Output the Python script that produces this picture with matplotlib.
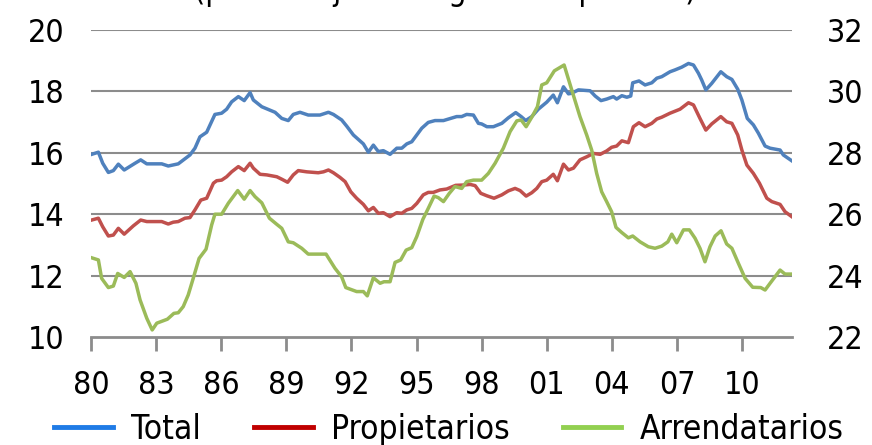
import matplotlib
matplotlib.use("Agg")
import matplotlib.pyplot as plt
from matplotlib.lines import Line2D
from matplotlib import font_manager as fm

# choose a condensed / narrow sans font if one is installed
def _pick_font():
    entries = fm.fontManager.ttflist
    def ok(f):
        return f.style == "normal" and f.weight in (400, "normal", "regular", "book")
    prefs = [
        lambda f: f.name == "Liberation Sans Narrow",
        lambda f: f.name == "DejaVu Sans" and f.stretch in ("condensed", "semi-condensed"),
        lambda f: "Condensed" in f.name or "Narrow" in f.name,
        lambda f: f.stretch in ("condensed", "semi-condensed", "extra-condensed"),
    ]
    for p in prefs:
        for f in entries:
            if ok(f) and p(f):
                return f.name, f.stretch
    return None, None

_name, _stretch = _pick_font()
if _name:
    plt.rcParams['font.family'] = [_name, 'DejaVu Sans']
    plt.rcParams['font.stretch'] = _stretch
    FS = 23
else:
    plt.rcParams['font.family'] = ['DejaVu Sans']
    FS = 19

title = "(porcentaje del ingreso disponible)"
series_names = ["Total", "Propietarios", "Arrendatarios"]
xtick_years = [1980, 1983, 1986, 1989, 1992, 1995, 1998, 2001, 2004, 2007, 2010]
xtick_labels = ["80", "83", "86", "89", "92", "95", "98", "01", "04", "07", "10"]

total_t = [1980.03, 1980.34, 1980.54, 1980.80, 1981.03, 1981.26, 1981.53, 1982.03, 1982.29, 1982.57,
           1983.26, 1983.56, 1984.02, 1984.56, 1984.79, 1985.02, 1985.33, 1985.71, 1986.02, 1986.25,
           1986.48, 1986.79, 1987.06, 1987.33, 1987.48, 1987.87, 1988.48, 1988.79, 1989.09, 1989.32,
           1989.63, 1990.01, 1990.55, 1990.94, 1991.17, 1991.55, 1991.78, 1992.09, 1992.55, 1992.78,
           1993.01, 1993.24, 1993.47, 1993.78, 1994.09, 1994.32, 1994.55, 1994.78, 1995.24, 1995.54,
           1995.85, 1996.24, 1996.85, 1997.08, 1997.31, 1997.62, 1997.85, 1998.00, 1998.24, 1998.54,
           1998.93, 1999.23, 1999.57, 1999.82, 2000.03, 2000.31, 2000.61, 2001.00, 2001.30, 2001.49,
           2001.77, 2002.00, 2002.15, 2002.46, 2003.00, 2003.23, 2003.50, 2003.76, 2004.07, 2004.22,
           2004.46, 2004.69, 2004.87, 2004.96, 2005.25, 2005.53, 2005.84, 2006.07, 2006.30, 2006.68,
           2006.91, 2007.22, 2007.53, 2007.76, 2007.99, 2008.14, 2008.33, 2008.60, 2009.02, 2009.29,
           2009.53, 2009.80, 2009.99, 2010.24, 2010.52, 2010.75, 2011.06, 2011.29, 2011.75, 2011.90,
           2012.29]
total_v = [15.95, 16.02, 15.66, 15.36, 15.42, 15.63, 15.44, 15.66, 15.77, 15.64,
           15.64, 15.57, 15.64, 15.93, 16.15, 16.52, 16.67, 17.25, 17.29, 17.42,
           17.66, 17.83, 17.70, 17.96, 17.72, 17.50, 17.32, 17.12, 17.05, 17.25,
           17.32, 17.23, 17.23, 17.32, 17.25, 17.07, 16.87, 16.58, 16.29, 16.02,
           16.25, 16.04, 16.07, 15.95, 16.15, 16.15, 16.29, 16.36, 16.80, 16.99,
           17.05, 17.05, 17.18, 17.18, 17.25, 17.23, 16.96, 16.94, 16.85, 16.85,
           16.96, 17.14, 17.31, 17.18, 17.05, 17.18, 17.42, 17.65, 17.88, 17.63,
           18.15, 17.92, 17.94, 18.05, 18.02, 17.85, 17.70, 17.75, 17.83, 17.75,
           17.86, 17.81, 17.85, 18.28, 18.34, 18.21, 18.28, 18.43, 18.48, 18.64,
           18.70, 18.79, 18.91, 18.86, 18.59, 18.37, 18.05, 18.26, 18.64, 18.48,
           18.39, 18.07, 17.72, 17.12, 16.91, 16.64, 16.22, 16.15, 16.09, 15.93,
           15.74]

prop_t = [1980.03, 1980.34, 1980.54, 1980.80, 1981.03, 1981.26, 1981.53, 1981.95, 1982.29, 1982.57,
          1983.26, 1983.56, 1983.79, 1984.02, 1984.33, 1984.56, 1984.79, 1985.06, 1985.33, 1985.64,
          1985.79, 1986.02, 1986.25, 1986.48, 1986.79, 1987.06, 1987.33, 1987.48, 1987.79, 1988.10,
          1988.56, 1988.79, 1989.06, 1989.32, 1989.55, 1989.94, 1990.47, 1990.71, 1990.94, 1991.17,
          1991.47, 1991.71, 1991.97, 1992.24, 1992.55, 1992.78, 1993.01, 1993.24, 1993.47, 1993.78,
          1994.09, 1994.32, 1994.55, 1994.78, 1995.01, 1995.31, 1995.54, 1995.77, 1996.08, 1996.39,
          1996.80, 1997.16, 1997.47, 1997.70, 1997.96, 1998.24, 1998.57, 1998.93, 1999.23, 1999.54,
          1999.77, 2000.05, 2000.31, 2000.54, 2000.77, 2001.00, 2001.30, 2001.49, 2001.77, 2002.00,
          2002.23, 2002.53, 2002.84, 2003.15, 2003.46, 2003.76, 2003.99, 2004.22, 2004.46, 2004.76,
          2004.99, 2005.25, 2005.53, 2005.84, 2006.07, 2006.30, 2006.68, 2007.14, 2007.53, 2007.76,
          2008.06, 2008.33, 2008.60, 2009.02, 2009.29, 2009.53, 2009.80, 2009.99, 2010.22, 2010.52,
          2010.80, 2011.14, 2011.37, 2011.75, 2011.98, 2012.29]
prop_v = [13.81, 13.87, 13.59, 13.29, 13.32, 13.54, 13.35, 13.62, 13.81, 13.76,
          13.76, 13.68, 13.74, 13.76, 13.87, 13.89, 14.14, 14.46, 14.52, 15.01,
          15.09, 15.11, 15.22, 15.38, 15.55, 15.42, 15.66, 15.50, 15.30, 15.28,
          15.22, 15.14, 15.04, 15.28, 15.42, 15.38, 15.35, 15.38, 15.44, 15.35,
          15.20, 15.06, 14.73, 14.52, 14.32, 14.11, 14.22, 14.03, 14.05, 13.92,
          14.05, 14.03, 14.14, 14.19, 14.35, 14.63, 14.71, 14.71, 14.79, 14.82,
          14.94, 14.95, 14.97, 14.93, 14.68, 14.60, 14.52, 14.63, 14.76, 14.84,
          14.77, 14.59, 14.70, 14.84, 15.06, 15.11, 15.30, 15.09, 15.63, 15.44,
          15.50, 15.77, 15.87, 15.98, 15.95, 16.06, 16.18, 16.22, 16.39, 16.33,
          16.85, 16.98, 16.85, 16.96, 17.10, 17.16, 17.29, 17.42, 17.63, 17.56,
          17.12, 16.74, 16.94, 17.18, 17.01, 16.96, 16.58, 16.09, 15.60, 15.33,
          15.01, 14.52, 14.41, 14.32, 14.08, 13.92]

arr_t = [1980.03, 1980.34, 1980.49, 1980.80, 1981.03, 1981.23, 1981.53, 1981.80, 1982.07, 1982.26,
         1982.57, 1982.82, 1983.03, 1983.52, 1983.82, 1984.02, 1984.25, 1984.48, 1984.71, 1984.98,
         1985.30, 1985.56, 1985.71, 1986.02, 1986.33, 1986.76, 1987.06, 1987.33, 1987.56, 1987.87,
         1988.22, 1988.56, 1988.79, 1989.09, 1989.32, 1989.71, 1990.01, 1990.83, 1991.24, 1991.55,
         1991.74, 1992.24, 1992.55, 1992.73, 1993.01, 1993.32, 1993.50, 1993.78, 1994.01, 1994.27,
         1994.52, 1994.78, 1995.01, 1995.29, 1995.54, 1995.81, 1996.00, 1996.24, 1996.51, 1996.77,
         1997.08, 1997.31, 1997.62, 1998.00, 1998.31, 1998.62, 1999.00, 1999.31, 1999.62, 1999.82,
         2000.05, 2000.31, 2000.57, 2000.77, 2001.00, 2001.35, 2001.80, 2002.15, 2002.53, 2002.84,
         2003.07, 2003.30, 2003.53, 2003.76, 2003.99, 2004.19, 2004.46, 2004.76, 2004.96, 2005.30,
         2005.68, 2005.99, 2006.30, 2006.58, 2006.76, 2006.99, 2007.30, 2007.57, 2007.83, 2008.06,
         2008.29, 2008.52, 2008.76, 2009.03, 2009.29, 2009.53, 2009.83, 2010.14, 2010.49, 2010.86,
         2011.06, 2011.29, 2011.75, 2011.98, 2012.29]
arr_v = [24.58, 24.51, 23.91, 23.61, 23.66, 24.07, 23.94, 24.13, 23.75, 23.21,
         22.61, 22.23, 22.45, 22.58, 22.77, 22.79, 22.99, 23.37, 23.91, 24.56,
         24.86, 25.65, 26.00, 26.00, 26.36, 26.77, 26.49, 26.77, 26.57, 26.37,
         25.87, 25.67, 25.54, 25.10, 25.07, 24.89, 24.70, 24.70, 24.24, 23.96,
         23.61, 23.48, 23.48, 23.34, 23.93, 23.75, 23.80, 23.80, 24.43, 24.51,
         24.83, 24.91, 25.27, 25.83, 26.19, 26.59, 26.54, 26.41, 26.68, 26.90,
         26.84, 27.06, 27.11, 27.11, 27.33, 27.66, 28.15, 28.69, 29.04, 29.07,
         28.85, 29.16, 29.50, 30.21, 30.28, 30.67, 30.86, 30.05, 29.18, 28.58,
         28.09, 27.33, 26.73, 26.41, 26.08, 25.57, 25.40, 25.23, 25.29, 25.10,
         24.94, 24.89, 24.96, 25.10, 25.35, 25.07, 25.49, 25.49, 25.22, 24.89,
         24.45, 24.94, 25.29, 25.46, 25.03, 24.89, 24.40, 23.91, 23.62, 23.61,
         23.53, 23.75, 24.18, 24.05, 24.05]

line_colors = ["#4F81BD", "#C0504D", "#9BBB59"]
legend_colors = ["#1F7BE6", "#C00000", "#92D050"]
grid_color = "#8C8C8C"

fig = plt.figure(figsize=(8.72, 4.45), dpi=100)
ax = fig.add_axes([91/872, 1-337/445, (792-91)/872, (337-30)/445])
ax2 = ax.twinx()

ax.set_xlim(1980, 2012.3)
ax.set_ylim(10, 20)
ax2.set_ylim(22, 32)
ax.set_yticks([10, 12, 14, 16, 18, 20])
ax2.set_yticks([22, 24, 26, 28, 30, 32])

for y in [12, 14, 16, 18, 20]:
    ax.axhline(y, color=grid_color, lw=1.5, zorder=0)

ax.plot(total_t, total_v, color=line_colors[0], lw=2.5, zorder=3)
ax.plot(prop_t, prop_v, color=line_colors[1], lw=2.5, zorder=3)
ax2.plot(arr_t, arr_v, color=line_colors[2], lw=2.5, zorder=3)

for a in (ax, ax2):
    for s in ("top", "left", "right"):
        a.spines[s].set_visible(False)
    a.spines["bottom"].set_color(grid_color)
    a.spines["bottom"].set_linewidth(2)
ax2.spines["bottom"].set_visible(False)

ax.set_xticks(xtick_years)
ax.set_xticklabels(xtick_labels)
ax.tick_params(axis="x", direction="out", length=10, width=2, color=grid_color,
               labelsize=FS, pad=14)
ax.tick_params(axis="y", length=0, labelsize=FS, pad=19)
ax2.tick_params(axis="y", length=0, labelsize=FS, pad=25)

fig.text(445/872, 1.0, title, ha="center", va="baseline", fontsize=FS)

handles = [Line2D([0], [0], color=c, lw=3.5) for c in legend_colors]
fig.legend(handles, series_names, loc="lower center", bbox_to_anchor=(0.515, -0.07),
           ncol=3, frameon=False, fontsize=FS + 1, handlelength=1.75, columnspacing=1.6,
           handletextpad=0.55)

fig.savefig("out.png", dpi=100)
